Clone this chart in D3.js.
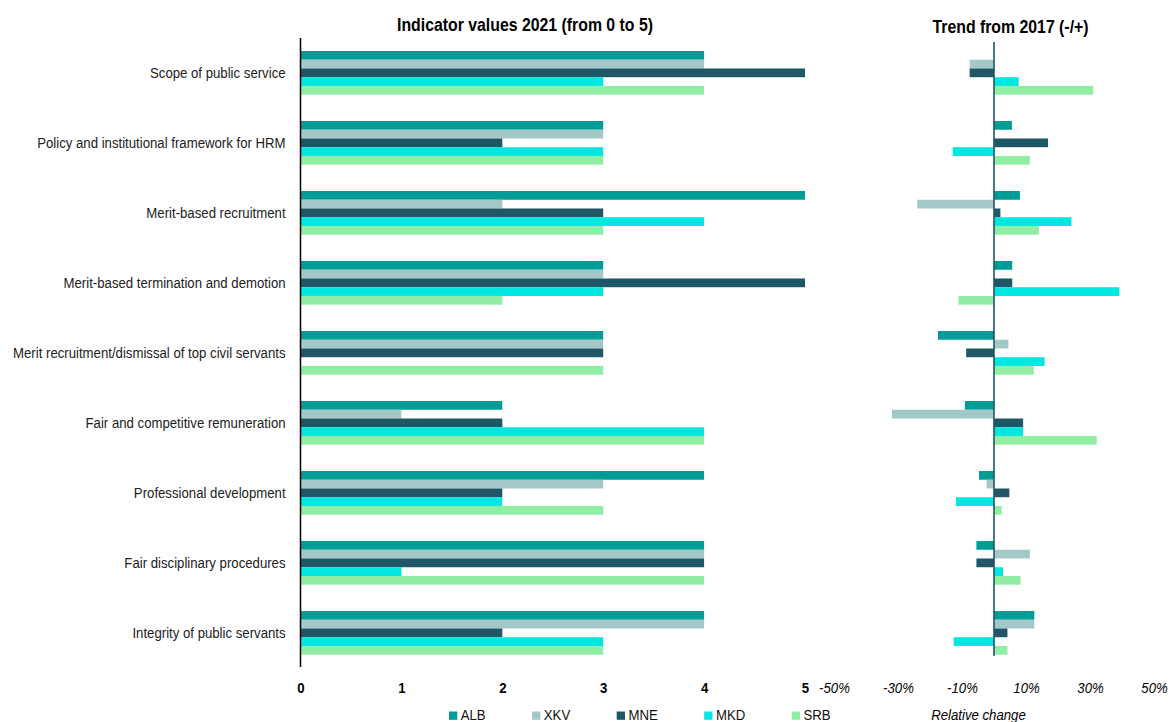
<!DOCTYPE html>
<html>
<head>
<meta charset="utf-8">
<script src="https://cdn.jsdelivr.net/npm/d3@7"></script>
<style>
  html, body { margin: 0; padding: 0; background: #fff; }
  svg { display: block; font-family: "Liberation Sans", Arial, sans-serif; }
</style>
</head>
<body>
<svg id="chart" width="1170" height="722"></svg>
<script>
// ---------- data ----------
const categories = [
  "Scope of public service",
  "Policy and institutional framework for HRM",
  "Merit-based recruitment",
  "Merit-based termination and demotion",
  "Merit recruitment/dismissal of top civil servants",
  "Fair and competitive remuneration",
  "Professional development",
  "Fair disciplinary procedures",
  "Integrity of public servants"
];
const seriesNames = ["ALB", "XKV", "MNE", "MKD", "SRB"];
const seriesColors = ["#009C98", "#A2C8C8", "#1F5766", "#00E6E1", "#90EEA4"];

// Indicator values 2021 (0 to 5)
const albValues = [4, 3, 5, 3, 3, 2, 4, 4, 4];
const xkvValues = [4, 3, 2, 3, 3, 1, 3, 4, 4];
const mneValues = [5, 2, 3, 5, 3, 2, 2, 4, 2];
const mkdValues = [3, 3, 4, 3, 0, 4, 2, 1, 3];
const srbValues = [4, 3, 3, 2, 3, 4, 3, 4, 3];

// Trend from 2017 (relative change, %)
const albTrend = [0, 5.6, 8.1, 5.7, -17.5, -9.1, -4.7, -5.5, 12.6];
const xkvTrend = [-7.6, 0, -24.0, 0, 4.5, -31.9, -2.3, 11.2, 12.6];
const mneTrend = [-7.6, 16.9, 2.0, 5.7, -8.7, 9.1, 4.8, -5.5, 4.2];
const mkdTrend = [7.7, -12.9, 24.2, 39.2, 15.8, 9.1, -11.9, 2.8, -12.6];
const srbTrend = [31.0, 11.2, 14.0, -11.1, 12.4, 32.1, 2.4, 8.3, 4.2];

const valueTicks = [0, 1, 2, 3, 4, 5];
const trendTicks = [-50, -30, -10, 10, 30, 50];

const leftTitle = "Indicator values 2021 (from 0 to 5)";
const rightTitle = "Trend from 2017 (-/+)";
const trendAxisLabel = "Relative change";

// ---------- build tables ----------
const valueArrays = [albValues, xkvValues, mneValues, mkdValues, srbValues];
const trendArrays = [albTrend, xkvTrend, mneTrend, mkdTrend, srbTrend];
const valueRows = [], trendRows = [];
categories.forEach((c, i) => {
  seriesNames.forEach((s, j) => {
    valueRows.push({ cat: c, series: s, v: valueArrays[j][i], color: seriesColors[j] });
    trendRows.push({ cat: c, series: s, v: trendArrays[j][i], color: seriesColors[j] });
  });
});

// ---------- layout ----------
const SX = 0.88; // horizontal condensation of text
const svg = d3.select("#chart");

const y = d3.scaleBand().domain(categories).range([37.7, 668]).paddingInner(0.376).paddingOuter(0.19);
const ySub = d3.scaleBand().domain(seriesNames).range([0, y.bandwidth()]);

const x = d3.scaleLinear().domain([0, 5]).range([300.5, 805]);
const xt = d3.scaleLinear().domain([-50, 50]).range([834, 1154]);

// ---------- left bars ----------
svg.append("g").selectAll("rect").data(valueRows).join("rect")
  .attr("x", x(0))
  .attr("y", d => y(d.cat) + ySub(d.series))
  .attr("width", d => x(d.v) - x(0))
  .attr("height", ySub.bandwidth())
  .attr("fill", d => d.color);

// ---------- right bars ----------
svg.append("g").selectAll("rect").data(trendRows).join("rect")
  .attr("x", d => xt(Math.min(0, d.v)))
  .attr("y", d => y(d.cat) + ySub(d.series))
  .attr("width", d => Math.abs(xt(d.v) - xt(0)))
  .attr("height", ySub.bandwidth())
  .attr("fill", d => d.color);

// ---------- axes lines ----------
svg.append("line")
  .attr("x1", x(0)).attr("x2", x(0)).attr("y1", 38).attr("y2", 667)
  .attr("stroke", "#000").attr("stroke-width", 1.5);
svg.append("line")
  .attr("x1", xt(0)).attr("x2", xt(0)).attr("y1", 42).attr("y2", 656)
  .attr("stroke", "#1F5766").attr("stroke-width", 1.6);

// ---------- category axis ----------
const gy = svg.append("g").attr("transform", `translate(${x(0)},0)`)
  .call(d3.axisLeft(y).tickSize(0).tickPadding(17));
gy.select(".domain").remove();
gy.selectAll("text")
  .attr("font-size", 15).attr("fill", "#222")
  .attr("font-family", "'Liberation Sans', Arial, sans-serif")
  .attr("transform", `scale(${SX},1)`);

// ---------- value axis ----------
const gx = svg.append("g").attr("transform", `translate(0,667)`)
  .call(d3.axisBottom(x).tickValues(valueTicks).tickFormat(d3.format("d")).tickSize(0).tickPadding(15.5));
gx.select(".domain").remove();
gx.selectAll("text")
  .attr("font-size", 15).attr("font-weight", "bold").attr("fill", "#000")
  .attr("font-family", "'Liberation Sans', Arial, sans-serif")
  .attr("transform", `scale(${SX},1)`);

// ---------- trend axis ----------
const gxt = svg.append("g").attr("transform", `translate(0,667)`)
  .call(d3.axisBottom(xt).tickValues(trendTicks).tickFormat(d => d + "%").tickSize(0).tickPadding(15.5));
gxt.select(".domain").remove();
gxt.selectAll("text")
  .attr("font-size", 15).attr("font-style", "italic").attr("fill", "#000")
  .attr("font-family", "'Liberation Sans', Arial, sans-serif")
  .attr("transform", `scale(${SX},1)`);

// ---------- text helper ----------
function label(txt, cx, cy, opts) {
  const g = svg.append("g").attr("transform", `translate(${cx},${cy}) scale(${SX},1)`);
  const t = g.append("text").text(txt)
    .attr("text-anchor", opts.anchor || "middle")
    .attr("font-size", opts.size || 15)
    .attr("fill", opts.fill || "#000");
  if (opts.bold) t.attr("font-weight", "bold");
  if (opts.italic) t.attr("font-style", "italic");
  return t;
}

label(leftTitle, 525, 31, { size: 18, bold: true });
label(rightTitle, 1010.5, 33, { size: 18, bold: true });
label(trendAxisLabel, 978.5, 720, { size: 15, italic: true });

// ---------- legend ----------
let lx = 449;
seriesNames.forEach((s, j) => {
  svg.append("rect").attr("x", lx).attr("y", 711.5).attr("width", 8.3).attr("height", 8.3)
    .attr("fill", seriesColors[j]);
  const t = label(s, lx + 11.7, 720, { size: 15, anchor: "start", fill: "#111" });
  const w = t.node().getComputedTextLength() * SX;
  lx = lx + 11.7 + w + 46.5;
});
</script>
</body>
</html>
